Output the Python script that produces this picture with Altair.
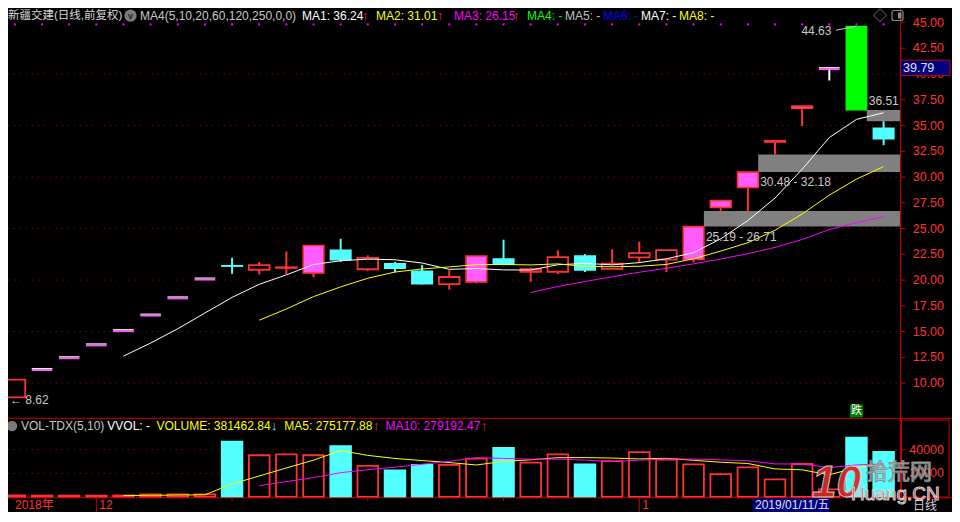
import altair as alt
import pandas as pd

# ---------------- data ----------------
day_index = list(range(33))
kind = ["阳", "一字", "一字", "一字", "一字", "一字", "一字", "一字",
        "阴", "阳", "阳", "涨停", "阴", "阳", "阴", "阴", "阳", "涨停",
        "阴", "阳", "阳", "阴", "阳", "阳", "阳", "涨停", "涨停", "涨停",
        "涨停", "涨停", "一字", "跌停", "阴"]
open_price = [8.62, 11.37, 12.51, 13.76, 15.14, 16.65, 18.32, 20.15,
              21.40, 21.00, 21.18, 20.68, 22.89, 21.05, 21.59, 20.87, 19.60, 19.81,
              22.05, 20.81, 20.81, 22.33, 21.09, 22.21, 21.99, 21.99, 27.06, 28.98,
              33.40, 36.67, 40.57, 44.63, 34.74]
high_price = [10.34, 11.37, 12.51, 13.76, 15.14, 16.65, 18.32, 20.15,
              22.16, 21.77, 22.77, 23.36, 24.01, 22.40, 21.77, 21.46, 20.96, 22.33,
              23.92, 21.21, 22.89, 22.52, 22.99, 23.73, 22.90, 25.19, 27.71, 30.48,
              33.53, 36.88, 40.57, 44.63, 35.42]
low_price = [8.62, 11.37, 12.51, 13.76, 15.14, 16.65, 18.32, 20.15,
             20.60, 20.53, 20.59, 20.28, 21.77, 20.87, 20.75, 19.58, 19.07, 19.66,
             21.45, 19.81, 20.59, 20.78, 21.09, 21.65, 20.77, 21.71, 26.71, 26.62,
             32.18, 34.95, 39.37, 36.51, 33.09]
close_price = [10.34, 11.37, 12.51, 13.76, 15.14, 16.65, 18.32, 20.15,
               21.35, 21.46, 21.24, 23.36, 21.96, 22.15, 21.15, 19.65, 20.30, 22.33,
               21.52, 21.05, 22.23, 20.98, 21.60, 22.62, 22.90, 25.19, 27.71, 30.48,
               33.53, 36.88, 40.57, 36.51, 33.71]
volume = [1400, 1200, 1200, 1200, 1300, 2200, 2300, 2200,
          46900, 35300, 36100, 35300, 42900, 26300, 22400, 27100, 27100, 32500,
          41500, 29000, 36100, 27600, 30400, 37900, 31700, 27600, 19400, 25100,
          14900, 27900, 6444, 50200, 38146]

gap_start = [25, 27, 31]
gap_low = [25.19, 30.48, 35.42]
gap_high = [26.71, 32.18, 36.51]
gap_text = ["25.19 - 26.71", "30.48 - 32.18", "36.51"]

price_ticks = [45.0, 42.5, 40.0, 37.5, 35.0, 32.5, 30.0, 27.5, 25.0, 22.5, 20.0, 17.5, 15.0, 12.5, 10.0]
price_grid = [40, 35, 30, 25, 20, 15, 10]
vol_ticks = [40000, 20000]
month_index = [3, 23]
month_text = ["12", "1"]
minor_index = [8, 13, 18]
cursor_price = ["39.79"]
signal_index = [31]
signal_text = ["跌"]
peak_index = [31]
peak_price = [44.63]
bottom_index = [0]
bottom_price = [8.62]

header_texts = ["新疆交建(日线,前复权)", "MA4(5,10,20,60,120,250,0,0)", "MA1: 36.24", "↑",
                "MA2: 31.01", "↑", "MA3: 26.15", "↑", "MA4: -", "MA5: -", "MA6: -", "MA7: -", "MA8: -"]
vol_header_texts = ["VOL-TDX(5,10)", "VVOL: -", "VOLUME: 381462.84", "↓",
                    "MA5: 275177.88", "↑", "MA10: 279192.47", "↑"]

# ---------------- styling ----------------
FONT = "Liberation Sans, Noto Sans CJK SC, DejaVu Sans, sans-serif"
RED = "#ff3232"
FRAME = "#c80000"
GRID = "#a00000"
CYAN = "#54ffff"
PINK = "#ff5cff"
GREEN = "#00ff00"
KIND_DOMAIN = ["阳", "涨停", "阴", "跌停", "一字"]
HALF = 0.38
AXIS_X = 892.4
MAIN_BOTTOM = 410.3
VOL_BOTTOM = 489.8
W, H = 944, 504

XS = alt.Scale(domain=[0, 32], range=[6.9, 875.6], nice=False, zero=False)
PS = alt.Scale(domain=[10, 45], range=[375.1, 14.5], nice=False, zero=False)
VS = alt.Scale(domain=[0, 40000], range=[489.0, 441.7], nice=False, zero=False)

df = pd.DataFrame({"idx": day_index, "kind": kind, "open": open_price, "high": high_price,
                   "low": low_price, "close": close_price, "volume": volume})
df["dir"] = ["down" if k in ("阴", "跌停") else "up" for k in kind]
ONE = pd.DataFrame({"k": [0]})


def X(f):
    return alt.X(f, scale=XS, axis=None)


def P(f):
    return alt.Y(f, scale=PS, axis=None)


def V(f):
    return alt.Y(f, scale=VS, axis=None)


def txt(x, y, s, color, size=12, align="left", **kw):
    return alt.Chart(pd.DataFrame({"s": [s]})).mark_text(
        align=align, baseline="middle", color=color, fontSize=size, font=FONT, **kw
    ).encode(x=alt.value(x), y=alt.value(y), text="s:N")


def rule(x1, x2, y1, y2, color, width=1, **kw):
    return alt.Chart(ONE).mark_rule(color=color, strokeWidth=width, **kw).encode(
        x=alt.value(x1), x2=alt.value(x2), y=alt.value(y1), y2=alt.value(y2))


def box(x1, x2, y1, y2, **kw):
    return alt.Chart(ONE).mark_rect(**kw).encode(
        x=alt.value(x1), x2=alt.value(x2), y=alt.value(y1), y2=alt.value(y2))


layers = []

# grid lines
layers.append(alt.Chart(pd.DataFrame({"p": price_grid})).mark_rule(
    color=GRID, strokeDash=[1, 5], strokeWidth=1).encode(
    x=alt.value(0), x2=alt.value(AXIS_X), y=P("p:Q")))
layers.append(alt.Chart(pd.DataFrame({"v": vol_ticks})).mark_rule(
    color=GRID, strokeDash=[1, 5], strokeWidth=1).encode(
    x=alt.value(0), x2=alt.value(AXIS_X), y=V("v:Q")))

# gap bands
gaps = pd.DataFrame({"start": gap_start, "lo": gap_low, "hi": gap_high, "label": gap_text})
layers.append(alt.Chart(gaps).transform_calculate(xs=f"datum.start + {HALF}").mark_rect(
    color="#808080").encode(x=X("xs:Q"), x2=alt.value(AXIS_X), y=P("lo:Q"), y2="hi:Q"))

cand = alt.Chart(df).transform_calculate(xl=f"datum.idx - {HALF}", xr=f"datum.idx + {HALF}")

# wicks
layers.append(alt.Chart(df).transform_filter("datum.high > datum.low").mark_rule(strokeWidth=2).encode(
    x=X("idx:Q"), y=P("low:Q"), y2="high:Q",
    stroke=alt.Stroke("kind:N", scale=alt.Scale(domain=KIND_DOMAIN, range=[RED, RED, CYAN, GREEN, "#ffffff"]),
                      legend=None)))
# bodies
layers.append(cand.transform_filter("datum.kind != '一字'").mark_rect().encode(
    x=X("xl:Q"), x2="xr:Q", y=P("open:Q"), y2="close:Q",
    fill=alt.Fill("kind:N", scale=alt.Scale(domain=KIND_DOMAIN, range=["#000000", PINK, CYAN, GREEN, "#ffffff"]),
                  legend=None),
    stroke=alt.Stroke("kind:N", scale=alt.Scale(domain=KIND_DOMAIN, range=[RED, RED, CYAN, GREEN, "#ffffff"]),
                      legend=None),
    strokeWidth=alt.StrokeWidth("kind:N", scale=alt.Scale(domain=KIND_DOMAIN, range=[1.8, 1, 1, 1, 1]),
                                legend=None)))
# one-price limit-up candles
layers.append(cand.transform_filter("datum.kind == '一字'").mark_rule(
    color=PINK, strokeWidth=2, yOffset=1).encode(x=X("xl:Q"), x2="xr:Q", y=P("close:Q")))
layers.append(cand.transform_filter("datum.kind == '一字'").mark_rule(
    color="#ffffff", strokeWidth=1, yOffset=-0.5).encode(x=X("xl:Q"), x2="xr:Q", y=P("close:Q")))


def ma_line(field, n, color, scale):
    return alt.Chart(df).transform_window(
        m=f"mean({field})", c="count()", frame=[-(n - 1), 0], sort=[alt.SortField("idx")]
    ).transform_filter(f"datum.c >= {n}").mark_line(color=color, strokeWidth=1).encode(
        x=X("idx:Q"), y=alt.Y("m:Q", scale=scale, axis=None), order="idx:Q")


layers.append(ma_line("close", 5, "#ffffff", PS))
layers.append(ma_line("close", 10, "#ffff00", PS))
layers.append(ma_line("close", 20, "#ff00ff", PS))

# gap labels
lab_style = dict(align="left", baseline="middle", color="#c8c8c8", fontSize=12, font=FONT)
layers.append(alt.Chart(gaps.iloc[:2]).transform_calculate(xs=f"datum.start + {HALF}").mark_text(
    dx=2, dy=10, **lab_style).encode(x=X("xs:Q"), y=P("lo:Q"), text="label:N"))
layers.append(alt.Chart(gaps.iloc[2:]).transform_calculate(xs=f"datum.start + {HALF}").mark_text(
    dx=2, dy=-8.5, **lab_style).encode(x=X("xs:Q"), y=P("hi:Q"), text="label:N"))

# peak / bottom annotations
peak = pd.DataFrame({"i": peak_index, "p": peak_price})
layers.append(alt.Chart(peak).mark_text(align="right", baseline="middle", color="#c8c8c8", fontSize=12,
                                        font=FONT, dx=-25, dy=5).encode(
    x=X("i:Q"), y=P("p:Q"), text=alt.Text("p:Q", format=".2f")))
layers.append(alt.Chart(peak).transform_calculate(a="datum.i - 0.75", b="datum.i - 0.03",
                                                  pl="datum.p - 0.38").mark_rule(
    color="#c8c8c8", strokeWidth=1).encode(x=X("a:Q"), x2="b:Q", y=P("pl:Q"), y2="p:Q"))
bottom = pd.DataFrame({"i": bottom_index, "p": bottom_price})
layers.append(alt.Chart(bottom).transform_calculate(s="'← ' + format(datum.p, '.2f')").mark_text(
    align="left", baseline="middle", color="#c8c8c8", fontSize=12, font=FONT, dx=-5, dy=3).encode(
    x=X("i:Q"), y=P("p:Q"), text="s:N"))

# signal badge
sig = pd.DataFrame({"i": signal_index, "t": signal_text})
layers.append(alt.Chart(sig).mark_square(size=170, color="#007a00", opacity=1).encode(
    x=X("i:Q"), y=alt.value(403)))
layers.append(alt.Chart(sig).mark_text(color="#ffffff", fontSize=11, font=FONT, baseline="middle").encode(
    x=X("i:Q"), y=alt.value(403), text="t:N"))

# header dots
layers.append(alt.Chart(df).mark_square(size=4, color="#ff00ff", opacity=1).encode(
    x=X("idx:Q"), y=alt.value(16.4)))

# volume bars
layers.append(cand.transform_calculate(base="0").mark_rect(strokeWidth=1.8).encode(
    x=X("xl:Q"), x2="xr:Q", y=V("volume:Q"), y2="base:Q",
    fill=alt.Fill("dir:N", scale=alt.Scale(domain=["up", "down"], range=["#000000", CYAN]), legend=None),
    stroke=alt.Stroke("dir:N", scale=alt.Scale(domain=["up", "down"], range=[RED, CYAN]), legend=None)))
layers.append(ma_line("volume", 5, "#ffff00", VS))
layers.append(ma_line("volume", 10, "#ff00ff", VS))

# frames
layers.append(rule(0, W, MAIN_BOTTOM, MAIN_BOTTOM, FRAME))
layers.append(rule(0, W, VOL_BOTTOM, VOL_BOTTOM, FRAME))
layers.append(rule(AXIS_X, AXIS_X, 0, VOL_BOTTOM, FRAME))
layers.append(box(893.5, 941, 412, 489, fill=None, stroke=FRAME, strokeWidth=1))

# price axis
pt = pd.DataFrame({"p": price_ticks})
layers.append(alt.Chart(pt).mark_rule(color=FRAME).encode(
    x=alt.value(AXIS_X), x2=alt.value(AXIS_X + 5), y=P("p:Q")))
layers.append(alt.Chart(pt).mark_text(align="right", baseline="middle", color=RED, fontSize=12.5,
                                      font=FONT).encode(
    x=alt.value(936), y=P("p:Q"), text=alt.Text("p:Q", format=".2f")))
# volume axis
vt = pd.DataFrame({"v": vol_ticks})
layers.append(alt.Chart(vt).mark_rule(color=FRAME).encode(
    x=alt.value(AXIS_X), x2=alt.value(AXIS_X + 5), y=V("v:Q")))
layers.append(alt.Chart(vt).mark_text(align="right", baseline="middle", color=RED, fontSize=12.5,
                                      font=FONT).encode(
    x=alt.value(936), y=V("v:Q"), text="v:Q"))

# cursor price box
layers.append(box(AXIS_X, 942, 52.1, 67.6, fill="#000080", stroke=FRAME, strokeWidth=1))
layers.append(txt(895, 60, cursor_price[0], "#e0e0e0", size=12.5))

# header
YH = 7.7
hx = [0, 132, 294, 354, 368, 429, 446, 505, 519, 557, 595, 633, 671]
hc = ["#d8d8d8", "#c8c8c8", "#ffffff", RED, "#ffff00", RED, "#ff00ff", RED,
      "#00ff00", "#c0c0c0", "#0000ff", "#ffffff", "#ffff00"]
for x, s, c in zip(hx, header_texts, hc):
    if s == "↑":
        layers.append(txt(x, YH, s, c, size=13, fontWeight="bold"))
    elif x == 0:
        layers.append(txt(x, YH, s, c, size=11.5))
    else:
        layers.append(txt(x, YH, s, c))
layers.append(alt.Chart(ONE).mark_circle(size=150, color="#7a7a7a", opacity=1).encode(
    x=alt.value(122.5), y=alt.value(YH)))
layers.append(txt(122.5, YH, "v", "#262626", size=9, align="center", fontWeight="bold"))
layers.append(txt(872, YH, "◇", "#8a8a8a", size=14, align="center"))
layers.append(box(884, 895, 2.5, 12.5, fill=None, stroke="#8a8a8a", strokeWidth=1.2, cornerRadius=2))
layers.append(box(890, 893.5, 4.5, 10.5, fill="#8a8a8a"))

# volume header
YV = 418
vx = [13, 99.3, 148.5, 263, 276.3, 365, 377.6, 473]
vc = ["#c8c8c8", "#ffffff", "#ffff00", CYAN, "#ffff00", RED, "#ff00ff", RED]
layers.append(alt.Chart(ONE).mark_circle(size=110, color="#7a7a7a", opacity=1).encode(
    x=alt.value(4), y=alt.value(YV)))
for x, s, c in zip(vx, vol_header_texts, vc):
    if s in ("↑", "↓"):
        layers.append(txt(x, YV, s, c, size=13, fontWeight="bold"))
    else:
        layers.append(txt(x, YV, s, c))

# date row
YD = 497
layers.append(txt(7, YD, "2018年", RED))
mt = pd.DataFrame({"i": month_index, "t": month_text})
layers.append(alt.Chart(mt).mark_rule(color=FRAME).encode(
    x=X("i:Q"), y=alt.value(VOL_BOTTOM), y2=alt.value(H)))
layers.append(alt.Chart(mt).mark_text(align="left", baseline="middle", color=RED, fontSize=12, font=FONT,
                                      dx=3).encode(x=X("i:Q"), y=alt.value(YD), text="t:N"))
layers.append(alt.Chart(pd.DataFrame({"i": minor_index})).mark_rule(color=FRAME).encode(
    x=X("i:Q"), y=alt.value(VOL_BOTTOM), y2=alt.value(VOL_BOTTOM + 3)))
layers.append(box(745, 821.5, 490.5, 504, fill="#000080"))
layers.append(txt(747, YD, "2019/01/11/五", "#e0e0e0"))
layers.append(txt(905, YD + 1, "日线", "#d0d0d0"))

# watermark
layers.append(txt(804, 476, "10", "#d42a2a", size=44, fontWeight="bold", fontStyle="italic",
                  stroke="#d0d0d0", strokeWidth=1, opacity=0.95))
layers.append(txt(858, 464, "拾荒网", "#f2f2f2", size=22, stroke="#8a8a8a", strokeWidth=1.2, opacity=0.9))
layers.append(txt(843, 486, "Huang.CN", "#c02828", size=19, stroke="#d8d8d8", strokeWidth=1, opacity=0.95))

chart = alt.layer(*layers).resolve_scale(
    x="independent", y="independent", fill="independent", stroke="independent", strokeWidth="independent"
).properties(
    width=W, height=H, autosize=alt.AutoSizeParams(type="none"), padding=0, background="#000000"
).configure_view(stroke=None)

chart.save("out.html", embed_options={"renderer": "svg", "actions": False})
